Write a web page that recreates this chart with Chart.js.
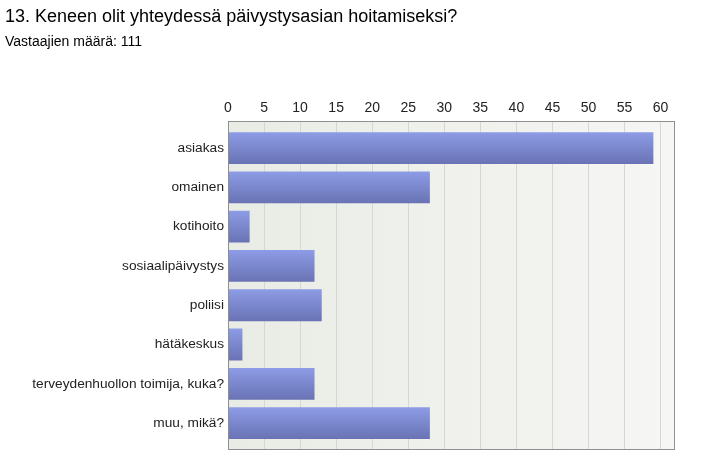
<!DOCTYPE html>
<html>
<head>
<meta charset="utf-8">
<script src="https://cdn.jsdelivr.net/npm/chart.js@4/dist/chart.umd.min.js"></script>
<style>
  html, body { margin: 0; padding: 0; background: #fff; }
  #wrap { width: 714px; height: 467px; }
</style>
</head>
<body>
<div id="wrap"><canvas id="kyselyChart"></canvas></div>
<script>
const titleText = '13. Keneen olit yhteydessä päivystysasian hoitamiseksi?';
const subtitleText = 'Vastaajien määrä: 111';
const categories = [
    'asiakas',
    'omainen',
    'kotihoito',
    'sosiaalipäivystys',
    'poliisi',
    'hätäkeskus',
    'terveydenhuollon toimija, kuka?',
    'muu, mikä?'
];
const counts = [59, 28, 3, 12, 13, 2, 12, 28];
const axisMax = 62;
const tickStep = 5;

const fontFamily = '"Liberation Sans", Arial, sans-serif';
const barPct = 0.81;
const edgePad = 0.685; // extra room above first / below last bar, in category units

// plot background + frame
const plotFrame = {
    id: 'plotFrame',
    beforeDraw(chart) {
        const { ctx, chartArea: a } = chart;
        const g = ctx.createLinearGradient(a.left, 0, a.right, 0);
        g.addColorStop(0, '#e9ece5');
        g.addColorStop(1, '#f6f6f4');
        ctx.save();
        ctx.fillStyle = g;
        ctx.fillRect(a.left, a.top, a.right - a.left, a.bottom - a.top);
        ctx.restore();
    },
    afterDraw(chart) {
        const { ctx, chartArea: a } = chart;
        ctx.save();
        ctx.strokeStyle = '#8f8f8f';
        ctx.lineWidth = 1;
        ctx.strokeRect(Math.round(a.left) + 0.5, Math.round(a.top) + 0.5,
            Math.round(a.right - a.left) - 1, Math.round(a.bottom - a.top) - 1);
        ctx.restore();
    }
};

function barFill(context) {
    const chart = context.chart;
    const y = chart.scales.y;
    if (!y || !chart.chartArea) return '#7987cd';
    const step = Math.abs(y.getPixelForValue(1) - y.getPixelForValue(0));
    const center = y.getPixelForValue(context.dataIndex);
    const half = step * barPct / 2;
    const g = chart.ctx.createLinearGradient(0, center - half, 0, center + half);
    g.addColorStop(0, '#8d9ce6');
    g.addColorStop(1, '#6973b4');
    return g;
}

const ctx = document.getElementById('kyselyChart').getContext('2d');
new Chart(ctx, {
    type: 'bar',
    data: {
        datasets: [{
            data: counts.map((v, i) => ({ x: v, y: i })),
            backgroundColor: barFill,
            borderWidth: 0,
            categoryPercentage: 1,
            barPercentage: barPct
        }]
    },
    options: {
        indexAxis: 'y',
        responsive: true,
        maintainAspectRatio: false,
        animation: false,
        layout: { padding: { left: 5, right: 39, top: 0, bottom: 17 } },
        scales: {
            x: {
                type: 'linear',
                position: 'top',
                min: 0,
                max: axisMax,
                ticks: {
                    stepSize: tickStep,
                    includeBounds: false,
                    padding: 5,
                    color: '#222',
                    font: { family: fontFamily, size: 14 }
                },
                grid: { color: '#d6d6d2', drawTicks: false },
                border: { display: false }
            },
            y: {
                type: 'linear',
                reverse: true,
                offset: false,
                ticks: {
                    autoSkip: false,
                    padding: 4,
                    color: '#222',
                    font: { family: fontFamily, size: 13.7 },
                    callback: (v) => categories[v] || ''
                },
                grid: { display: false, drawTicks: false },
                border: { display: false },
                afterBuildTicks(axis) {
                    axis.min = -edgePad;
                    axis.max = categories.length - 1 + edgePad;
                    axis.ticks = categories.map((_, i) => ({ value: i }));
                },
                afterFit(axis) { axis.width = 223; }
            }
        },
        plugins: {
            legend: { display: false },
            tooltip: { enabled: false },
            title: {
                display: true,
                text: titleText,
                align: 'start',
                color: '#000',
                font: { family: fontFamily, size: 18, weight: 'normal' },
                padding: { top: 6, bottom: 4 }
            },
            subtitle: {
                display: true,
                text: subtitleText,
                align: 'start',
                color: '#000',
                font: { family: fontFamily, size: 14 },
                padding: { top: 2, bottom: 44 }
            }
        }
    },
    plugins: [plotFrame]
});
</script>
</body>
</html>
